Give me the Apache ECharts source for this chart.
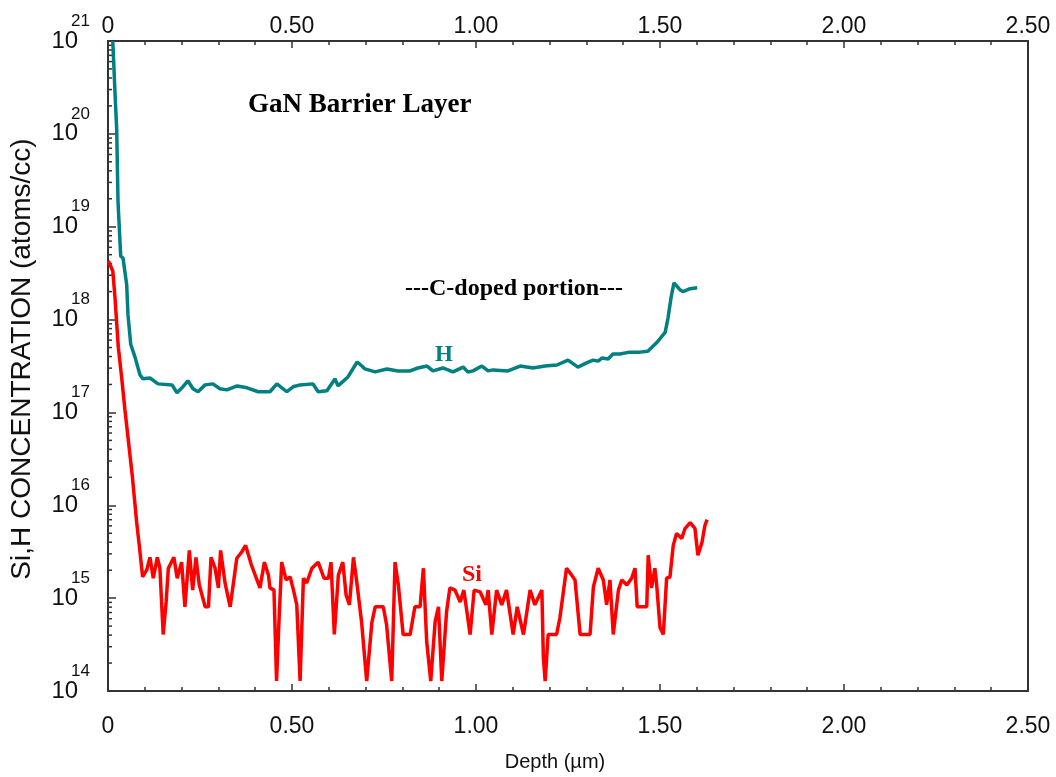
<!DOCTYPE html>
<html><head><meta charset="utf-8">
<script src="https://cdn.jsdelivr.net/npm/echarts@6/dist/echarts.min.js"></script>
<style>html,body{margin:0;padding:0;background:#fff}#c{width:1056px;height:777px}</style>
</head><body><div id="c"></div>
<script>
// ---- data ----
const hDepth = [0.013,0.019,0.0236,0.0272,0.0345,0.0408,0.0508,0.0543,0.0617,0.0734,0.087,0.0951,0.114,0.136,0.174,0.1875,0.201,0.217,0.231,0.2446,0.264,0.285,0.304,0.323,0.351,0.378,0.408,0.440,0.459,0.486,0.503,0.522,0.557,0.571,0.595,0.617,0.625,0.652,0.677,0.690,0.698,0.726,0.758,0.788,0.821,0.842,0.867,0.883,0.910,0.9375,0.965,0.978,0.992,1.016,1.033,1.046,1.087,1.120,1.155,1.1875,1.220,1.250,1.277,1.299,1.318,1.332,1.342,1.359,1.372,1.391,1.418,1.446,1.467,1.492,1.514,1.522,1.530,1.538,1.554,1.5625,1.582,1.601];
const hConc = [1.0e21,2.79e20,1.12e20,1.87e19,4.83e18,4.6e18,2.37e18,1.13e18,5.43e17,3.94e17,2.53e17,2.30e17,2.35e17,2.03e17,1.98e17,1.63e17,1.84e17,2.19e17,1.80e17,1.67e17,1.98e17,2.03e17,1.80e17,1.75e17,1.93e17,1.84e17,1.67e17,1.67e17,2.03e17,1.67e17,1.89e17,1.98e17,2.03e17,1.67e17,1.71e17,2.30e17,1.93e17,2.41e17,3.49e17,3.16e17,2.94e17,2.73e17,2.94e17,2.80e17,2.80e17,3.01e17,3.16e17,2.80e17,3.01e17,2.73e17,3.08e17,2.73e17,2.80e17,3.16e17,2.80e17,2.87e17,2.80e17,3.16e17,3.01e17,3.16e17,3.24e17,3.66e17,3.08e17,3.40e17,3.66e17,3.57e17,3.85e17,3.76e17,4.25e17,4.25e17,4.46e17,4.46e17,4.57e17,5.70e17,7.29e17,1.05e18,1.72e18,2.49e18,2.10e18,2.0e18,2.15e18,2.20e18];

const siDepth = [0.001,0.013,0.019,0.028,0.037,0.046,0.058,0.066,0.078,0.085,0.094,0.105,0.114,0.123,0.134,0.141,0.150,0.158,0.164,0.179,0.188,0.200,0.209,0.221,0.230,0.239,0.248,0.264,0.273,0.280,0.291,0.300,0.306,0.318,0.332,0.350,0.363,0.374,0.390,0.413,0.425,0.436,0.440,0.451,0.458,0.465,0.472,0.484,0.495,0.504,0.513,0.522,0.531,0.540,0.554,0.571,0.587,0.599,0.606,0.615,0.626,0.638,0.647,0.656,0.667,0.676,0.689,0.703,0.717,0.726,0.748,0.757,0.771,0.780,0.789,0.802,0.821,0.834,0.848,0.857,0.866,0.877,0.889,0.898,0.907,0.920,0.929,0.943,0.957,0.967,0.984,0.995,1.011,1.027,1.033,1.043,1.056,1.070,1.083,1.101,1.112,1.129,1.147,1.160,1.179,1.183,1.188,1.196,1.219,1.228,1.246,1.260,1.269,1.283,1.310,1.319,1.332,1.346,1.355,1.364,1.373,1.387,1.396,1.410,1.423,1.432,1.438,1.464,1.468,1.477,1.486,1.491,1.500,1.509,1.518,1.527,1.536,1.545,1.559,1.568,1.582,1.595,1.603,1.614,1.622,1.628];
const siConc = [4.28e18,3.34e18,1.72e18,5.04e17,2.41e17,1.07e17,4.01e16,2.07e16,6.51e15,3.70e15,1.7e15,2.00e15,2.75e15,1.64e15,2.75e15,2.10e15,4.06e14,9.1e14,2.10e15,2.75e15,1.64e15,2.44e15,8.07e14,3.27e15,1.22e15,2.75e15,1.39e15,8.07e14,8.07e14,2.75e15,2.10e15,1.29e15,3.27e15,1.46e15,8.07e14,2.69e15,3.12e15,3.70e15,2.26e15,1.29e15,2.44e15,1.77e15,1.29e15,1.22e15,1.28e14,6.15e14,2.44e15,1.57e15,1.69e15,1.22e15,8.47e14,1.28e14,1.64e15,1.46e15,2.10e15,2.44e15,1.64e15,1.64e15,2.44e15,4.06e14,1.77e15,2.44e15,1.08e15,8.47e14,2.75e15,1.49e15,5.58e14,1.28e14,5.45e14,8.07e14,8.07e14,5.19e14,1.28e14,2.44e15,1.39e15,4.06e14,4.06e14,8.07e14,8.07e14,2.10e15,3.41e14,1.28e14,5.58e14,8.07e14,1.28e14,7.13e14,1.29e15,1.22e15,9.1e14,1.22e15,4.06e14,1.22e15,1.17e15,8.47e14,1.22e15,4.06e14,1.22e15,8.47e14,1.22e15,4.06e14,8.07e14,4.06e14,1.22e15,8.47e14,1.22e15,2.30e14,1.28e14,4.06e14,4.06e14,6.15e14,2.10e15,1.77e15,1.57e15,4.06e14,4.06e14,1.32e15,2.10e15,1.57e15,8.47e14,1.57e15,4.06e14,1.22e15,1.57e15,1.39e15,1.64e15,2.10e15,8.07e14,8.07e14,2.90e15,1.29e15,2.10e15,1.39e15,4.82e14,4.06e14,1.64e15,1.69e15,3.70e15,4.97e15,4.40e15,5.62e15,6.51e15,5.62e15,2.90e15,3.98e15,6.05e15,7.01e15];

const xMin = 0, xMax = 2.5, xStep = 0.5;
const yMin = 1e14, yMax = 1e21;
const yTitle = 'Si,H CONCENTRATION (atoms/cc)';
const xTitle = 'Depth (\u00b5m)';
const chartTitle = 'GaN Barrier Layer';
const noteText = '---C-doped portion---';

// ---- build ----
const zip = (a, b) => a.map((v, i) => [v, b[i]]);
const minorVals = [];
for (let e = Math.log10(yMin); e < Math.log10(yMax); e++) {
  for (let m = 2; m <= 9; m++) minorVals.push([0, m * Math.pow(10, e)]);
}
const SANS = '"Liberation Sans", Arial, sans-serif';
const SERIF = '"Liberation Serif", "Times New Roman", serif';
const AX = '#333';

const chart = echarts.init(document.getElementById('c'), null, {renderer: 'canvas'});
const xLabelFmt = v => (Math.abs(v) < 1e-9 ? '0' : v.toFixed(2));
const xBase = {
  type: 'value', min: xMin, max: xMax, interval: xStep,
  axisLine: {show: true, onZero: false, lineStyle: {color: AX, width: 2}},
  axisTick: {show: true, inside: true, length: 7, lineStyle: {color: AX, width: 1.5}},
  minorTick: {show: true, splitNumber: 5, length: 4, lineStyle: {color: AX, width: 1.5}},
  splitLine: {show: false},
  axisLabel: {formatter: xLabelFmt, color: '#111', fontFamily: SANS, fontSize: 23}
};
chart.setOption({
  backgroundColor: '#fff',
  animation: false,
  grid: {left: 108, right: 28, top: 41, bottom: 80, containLabel: false},
  xAxis: [
    Object.assign({}, xBase, {position: 'bottom', name: xTitle, nameLocation: 'middle', nameGap: 61,
      nameTextStyle: {fontFamily: SANS, fontSize: 20, color: '#111', padding: [0, 26, 0, 0]},
      axisLabel: Object.assign({}, xBase.axisLabel, {margin: 24})}),
    Object.assign({}, xBase, {position: 'top',
      axisLabel: Object.assign({}, xBase.axisLabel, {margin: 3})})
  ],
  yAxis: [
    {type: 'log', logBase: 10, min: yMin, max: yMax, position: 'left',
     name: yTitle, nameLocation: 'middle', nameGap: 72, nameRotate: 90,
     nameTextStyle: {fontFamily: SANS, fontSize: 28, color: '#111', padding: [0, 0, 0, 14]},
     axisLine: {show: true, onZero: false, lineStyle: {color: AX, width: 2}},
     axisTick: {show: true, inside: true, length: 8, lineStyle: {color: AX, width: 1.5}},
     splitLine: {show: false},
     axisLabel: {margin: 18, color: '#111', fontFamily: SANS,
       formatter: v => '{b|10}{s|' + Math.round(Math.log10(v)) + '}',
       rich: {b: {fontSize: 24, fontFamily: SANS, color: '#111'},
              s: {fontSize: 17, fontFamily: SANS, color: '#111', padding: [0, 0, 40, -7]}}}},
    {type: 'log', logBase: 10, min: yMin, max: yMax, position: 'right',
     axisLine: {show: true, onZero: false, lineStyle: {color: AX, width: 2}},
     axisTick: {show: false}, axisLabel: {show: false}, splitLine: {show: false}}
  ],
  series: [
    {type: 'custom', xAxisIndex: 0, yAxisIndex: 0, silent: true, z: 1,
     data: minorVals,
     renderItem: (params, api) => {
       const p = api.coord([api.value(0), api.value(1)]);
       return {type: 'line', shape: {x1: p[0], y1: p[1], x2: p[0] + 4, y2: p[1]},
               style: {stroke: AX, lineWidth: 1.5}};
     }},
    {name: 'H', type: 'line', data: zip(hDepth, hConc), showSymbol: false, symbol: 'none',
     lineStyle: {color: '#008080', width: 3.5}, itemStyle: {color: '#008080'}, clip: true, z: 3},
    {name: 'Si', type: 'line', data: zip(siDepth, siConc), showSymbol: false, symbol: 'none',
     lineStyle: {color: '#ff0000', width: 3.5}, itemStyle: {color: '#ff0000'}, clip: true, z: 3}
  ],
  graphic: [
    {type: 'text', left: 248, top: 92, style: {text: chartTitle, font: 'bold 27px ' + SERIF, fill: '#000'}},
    {type: 'text', left: 405, top: 277, style: {text: noteText, font: 'bold 24px ' + SERIF, fill: '#000'}},
    {type: 'text', left: 435, top: 344, style: {text: 'H', font: 'bold 23px ' + SERIF, fill: '#008080'}},
    {type: 'text', left: 462, top: 563, style: {text: 'Si', font: 'bold 24px ' + SERIF, fill: '#ff0000'}}
  ]
});
</script>
</body></html>
